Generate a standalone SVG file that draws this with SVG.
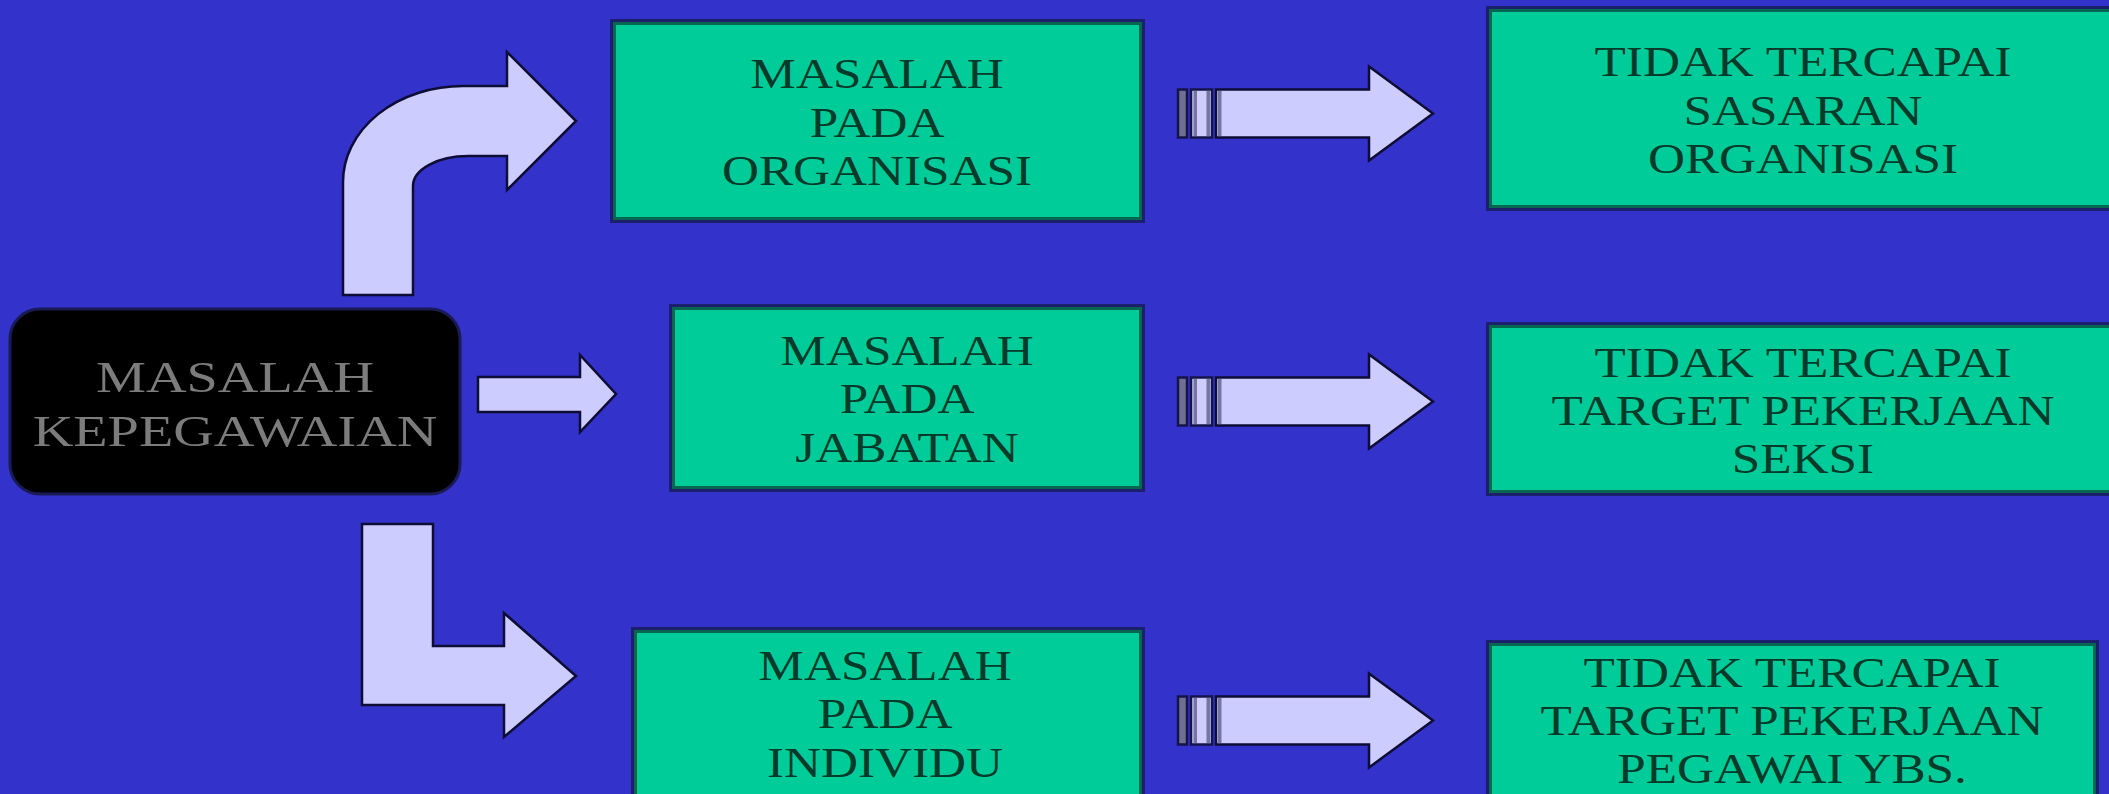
<svg xmlns="http://www.w3.org/2000/svg" xmlns:xlink="http://www.w3.org/1999/xlink" width="2109" height="794" viewBox="0 0 2109 794">
<style>
.box{fill:#00CC99;stroke:#1c1f6b;stroke-width:6}
.boxin{fill:none;stroke:#07664f;stroke-width:3}
.arr{fill:#CCCCFF;stroke:#0d0d35;stroke-width:2.5;stroke-linejoin:miter}
.gt{font-family:"Liberation Serif","Times New Roman",serif;font-size:42px;fill:#033a2a;text-anchor:middle}
.bt{font-family:"Liberation Serif","Times New Roman",serif;font-size:45px;fill:#7c7c7c;text-anchor:middle}
</style>
<defs>
<g id="striped">
<rect x="0" y="-24" width="9" height="48" fill="#6f6f90" stroke="#14144a" stroke-width="2.5"/>
<rect x="13" y="-24" width="21" height="48" fill="#CCCCFF" stroke="#14144a" stroke-width="2.5"/>
<rect x="15.5" y="-22.5" width="3.5" height="45" fill="#7575a0"/>
<rect x="28.5" y="-22.5" width="3.5" height="45" fill="#7575a0"/>
<path class="arr" d="M38 -24 L191 -24 L191 -47 L255 0 L191 47 L191 24 L38 24 Z"/>
<rect x="40" y="-22.5" width="3.5" height="45" fill="#7575a0"/>
</g>
</defs>
<rect x="0" y="0" width="2109" height="794" fill="#3333CC"/>

<g id="connectors">
<path class="arr" d="M343 295 L343 182 A120 96 0 0 1 463 86 L507 86 L507 52 L576 121 L507 190 L507 156 L468 156 A55 30 0 0 0 413 186 L413 295 Z"/>
<path class="arr" d="M478 377 L580 377 L580 355 L616 394 L580 432 L580 412 L478 412 Z"/>
<path class="arr" d="M362 524 L433 524 L433 646 L504 646 L504 613 L576 676 L504 737 L504 705 L362 705 Z"/>
<use xlink:href="#striped" href="#striped" transform="translate(1178,113.5)"/>
<use xlink:href="#striped" href="#striped" transform="translate(1178,401.5)"/>
<use xlink:href="#striped" href="#striped" transform="translate(1178,720.5)"/>
</g>

<g id="masalah-kepegawaian">
<rect x="10" y="309" width="450" height="185" rx="30" ry="30" fill="#000" stroke="#1a1a55" stroke-width="3"/>
<g transform="translate(235,0) scale(1.25,1)">
<text class="bt" x="0" y="392">MASALAH</text>
<text class="bt" x="0" y="446">KEPEGAWAIAN</text>
</g>
</g>

<g id="masalah-organisasi">
<rect class="box" x="613" y="22" width="529" height="198"/>
<rect class="boxin" x="614.5" y="23.5" width="526" height="195"/>
<g transform="translate(877,0) scale(1.22,1)">
<text class="gt" x="0" y="88">MASALAH</text>
<text class="gt" x="0" y="137">PADA</text>
<text class="gt" x="0" y="185">ORGANISASI</text>
</g>
</g>

<g id="masalah-jabatan">
<rect class="box" x="672" y="307" width="470" height="182"/>
<rect class="boxin" x="673.5" y="308.5" width="467" height="179"/>
<g transform="translate(907,0) scale(1.22,1)">
<text class="gt" x="0" y="365">MASALAH</text>
<text class="gt" x="0" y="413">PADA</text>
<text class="gt" x="0" y="462">JABATAN</text>
</g>
</g>

<g id="masalah-individu">
<rect class="box" x="634" y="630" width="508" height="190"/>
<rect class="boxin" x="635.5" y="631.5" width="505" height="187"/>
<g transform="translate(885,0) scale(1.22,1)">
<text class="gt" x="0" y="680">MASALAH</text>
<text class="gt" x="0" y="728">PADA</text>
<text class="gt" x="0" y="777">INDIVIDU</text>
</g>
</g>

<g id="tidak-sasaran">
<rect class="box" x="1489" y="9" width="630" height="199"/>
<rect class="boxin" x="1490.5" y="10.5" width="627" height="196"/>
<g transform="translate(1803,0) scale(1.22,1)">
<text class="gt" x="0" y="76">TIDAK TERCAPAI</text>
<text class="gt" x="0" y="125">SASARAN</text>
<text class="gt" x="0" y="173">ORGANISASI</text>
</g>
</g>

<g id="tidak-seksi">
<rect class="box" x="1489" y="325" width="630" height="168"/>
<rect class="boxin" x="1490.5" y="326.5" width="627" height="165"/>
<g transform="translate(1803,0) scale(1.22,1)">
<text class="gt" x="0" y="377">TIDAK TERCAPAI</text>
<text class="gt" x="0" y="425">TARGET PEKERJAAN</text>
<text class="gt" x="0" y="473">SEKSI</text>
</g>
</g>

<g id="tidak-pegawai">
<rect class="box" x="1489" y="643" width="607" height="180"/>
<rect class="boxin" x="1490.5" y="644.5" width="604" height="177"/>
<g transform="translate(1792,0) scale(1.22,1)">
<text class="gt" x="0" y="687">TIDAK TERCAPAI</text>
<text class="gt" x="0" y="735">TARGET PEKERJAAN</text>
<text class="gt" x="0" y="783">PEGAWAI YBS.</text>
</g>
</g>
</svg>
